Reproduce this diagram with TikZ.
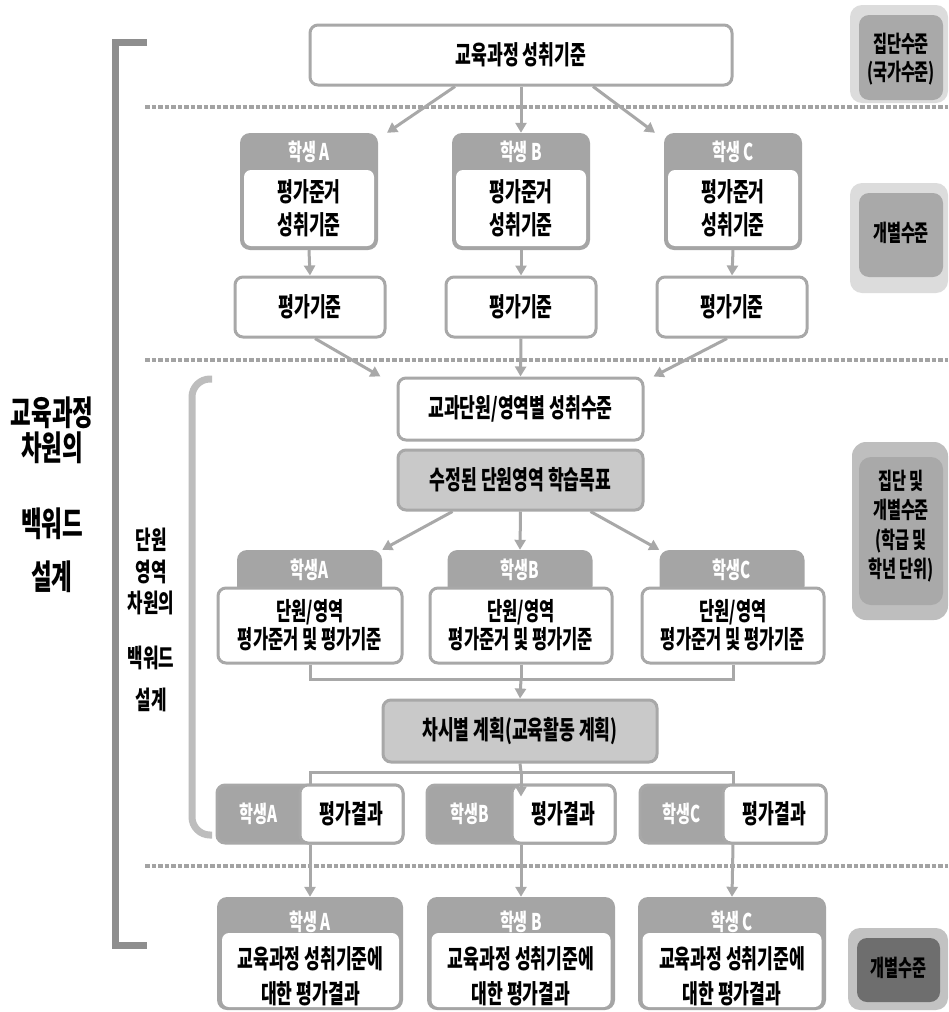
\documentclass[tikz,border=0pt]{standalone}
\usepackage{fontspec}
\newfontfamily\kr[FakeStretch=0.66]{Noto Sans CJK KR}
\usetikzlibrary{arrows.meta,calc}
\definecolor{lg}{HTML}{A8A8A8}
\definecolor{gfill}{HTML}{C9C9C9}
\definecolor{hdr}{HTML}{A5A5A5}
\definecolor{dotc}{HTML}{A3A3A3}
\definecolor{brk}{HTML}{8E8E8E}
\definecolor{brktwo}{HTML}{BDBDBD}
\definecolor{louter}{HTML}{DCDCDC}
\definecolor{linner}{HTML}{A9A9A9}
\definecolor{mouter}{HTML}{BEBEBE}
\definecolor{binner}{HTML}{6E6E6E}
\definecolor{bouter}{HTML}{C2C2C2}
\tikzset{
  txt/.style={inner sep=0pt, align=center, text=black, font=\kr\bfseries\fontsize{26}{33}\selectfont},
  box/.style={txt, draw=lg, line width=3pt, rounded corners=8pt},
  wbox/.style={box, fill=white},
  gbox/.style={box, fill=gfill},
  hdrbox/.style={fill=hdr, draw=none, rounded corners=10pt, inner sep=0pt},
  inwhite/.style={txt, fill=white, draw=none, rounded corners=7pt},
  hdrtxt/.style={inner sep=0pt, text=white, font=\kr\bfseries\fontsize{23}{25}\selectfont},
  arr/.style={draw=lg, line width=3pt, -{Triangle[length=10pt,width=11pt]}},
  conn/.style={draw=lg, line width=3pt},
  dotline/.style={draw=dotc, line width=4.5pt, dash pattern=on 4.5pt off 2pt},
  lbltxt/.style={inner sep=0pt, align=center, text=black, font=\kr\bfseries\fontsize{23}{28}\selectfont},
  bigtxt/.style={inner sep=0pt, text=black, font=\kr\bfseries\fontsize{34}{36}\selectfont},
  midtxt/.style={inner sep=0pt, text=black, font=\kr\bfseries\fontsize{25.5}{27}\selectfont},
}
\begin{document}
\begin{tikzpicture}[x=1pt,y=-1pt]
\useasboundingbox (0,0) rectangle (948,1012);
\fill[white] (0,0) rectangle (948,1012);

% dotted separators
\draw[dotline] (145,107) -- (948,107);
\draw[dotline] (145,360) -- (948,360);
\draw[dotline] (145,866) -- (948,866);

% brackets
\draw[brk, line width=7pt, line join=miter] (147,42) -- (115,42) -- (115,945) -- (147,945);
\draw[brktwo, line width=7pt, rounded corners=18pt] (212,379) -- (192,379) -- (192,835) -- (212,835);

% left texts
\node[bigtxt] (L1) at (52,413) {교육과정};
\node[bigtxt] (L2) at (52,448) {차원의};
\node[bigtxt] (L3) at (52,524) {백워드};
\node[bigtxt] (L4) at (52,577) {설계};
\node[midtxt] (M1) at (151,540) {단원};
\node[midtxt] (M2) at (151,572) {영역};
\node[midtxt] (M3) at (151,603) {차원의};
\node[midtxt] (M4) at (151,658) {백워드};
\node[midtxt] (M5) at (151,700) {설계};

% right labels
\node[fill=louter, rounded corners=12pt, minimum width=98pt, minimum height=98pt] (R1o) at (899,54) {};
\node[fill=linner, rounded corners=10pt, minimum width=84pt, minimum height=85pt] (R1i) at (901,57.5) {};
\node[lbltxt] (R1t) at (901,59) {집단수준\\(국가수준)};
\node[fill=louter, rounded corners=12pt, minimum width=98pt, minimum height=110pt] (R2o) at (899,238) {};
\node[fill=linner, rounded corners=10pt, minimum width=84pt, minimum height=84pt] (R2i) at (901,235) {};
\node[lbltxt] (R2t) at (901,233) {개별수준};
\node[fill=mouter, rounded corners=14pt, minimum width=96pt, minimum height=178pt] (R3o) at (900,531) {};
\node[fill=linner, rounded corners=12pt, minimum width=84pt, minimum height=148pt] (R3i) at (901,531) {};
\node[lbltxt, font=\kr\bfseries\fontsize{23}{29.5}\selectfont] (R3t) at (901,526) {집단 및\\개별수준\\(학급 및\\학년 단위)};
\node[fill=bouter, rounded corners=12pt, minimum width=100pt, minimum height=82pt] (R4o) at (898,969) {};
\node[fill=binner, rounded corners=10pt, minimum width=83pt, minimum height=64pt] (R4i) at (898.5,970) {};
\node[lbltxt] (R4t) at (898.5,968) {개별수준};

% top box
\node[wbox, minimum width=422pt, minimum height=60pt] (top) at (521,55) {교육과정 성취기준};

% row 1 students
\node[hdrbox, minimum width=138pt, minimum height=117pt] (sA) at (309,191.5) {};
\node[inwhite, minimum width=130pt, minimum height=76pt] (sAi) at (309,208) {평가준거\\성취기준};
\node[hdrtxt] (sAh) at (309,152) {학생 A};
\node[hdrbox, minimum width=138pt, minimum height=117pt] (sB) at (521,191.5) {};
\node[inwhite, minimum width=130pt, minimum height=76pt] (sBi) at (521,208) {평가준거\\성취기준};
\node[hdrtxt] (sBh) at (521,152) {학생 B};
\node[hdrbox, minimum width=138pt, minimum height=117pt] (sC) at (733,191.5) {};
\node[inwhite, minimum width=130pt, minimum height=76pt] (sCi) at (733,208) {평가준거\\성취기준};
\node[hdrtxt] (sCh) at (733,152) {학생 C};

% row 2
\node[wbox, minimum width=150pt, minimum height=60pt] (pA) at (310,307) {평가기준};
\node[wbox, minimum width=150pt, minimum height=60pt] (pB) at (521,307) {평가기준};
\node[wbox, minimum width=150pt, minimum height=60pt] (pC) at (732,307) {평가기준};

\draw[arr] ([xshift=-66pt]top.south) -- ([xshift=78pt]sA.north);
\draw[arr] (top.south) -- (sB.north);
\draw[arr] ([xshift=72pt]top.south) -- ([xshift=-78pt]sC.north);
\draw[arr] (sA.south) -- (pA.north);
\draw[arr] (sB.south) -- (pB.north);
\draw[arr] (sC.south) -- (pC.north);

% unit level
\node[wbox, minimum width=245pt, minimum height=62pt] (k) at (520.5,409) {교과단원/영역별 성취수준};
\node[gbox, minimum width=245pt, minimum height=60pt] (m) at (520.5,480) {수정된 단원영역 학습목표};
\draw[arr] ([xshift=5pt]pA.south) -- ([xshift=-16pt]k.north west);
\draw[arr] (pB.south) -- (k.north);
\draw[arr] ([xshift=-5pt]pC.south) -- ([xshift=9pt]k.north east);

% row 3
\node[hdrbox, minimum width=145pt, minimum height=46pt] (tA) at (309.5,573) {};
\node[hdrbox, minimum width=145pt, minimum height=46pt] (tB) at (520,573) {};
\node[hdrbox, minimum width=145pt, minimum height=46pt] (tC) at (732,573) {};
\node[hdrtxt] (tAh) at (309.5,570) {학생A};
\node[hdrtxt] (tBh) at (520,570) {학생B};
\node[hdrtxt] (tCh) at (732,570) {학생C};
\node[wbox, minimum width=184pt, minimum height=75pt, font=\kr\bfseries\fontsize{25}{28}\selectfont] (uA) at (310,625.5) {단원/영역\\평가준거 및 평가기준};
\node[wbox, minimum width=182pt, minimum height=75pt, font=\kr\bfseries\fontsize{25}{28}\selectfont] (uB) at (521,625.5) {단원/영역\\평가준거 및 평가기준};
\node[wbox, minimum width=182pt, minimum height=75pt, font=\kr\bfseries\fontsize{25}{28}\selectfont] (uC) at (733,625.5) {단원/영역\\평가준거 및 평가기준};
\draw[arr] ([xshift=-68pt]m.south) -- (tA.north east);
\draw[arr] (m.south) -- (tB.north);
\draw[arr] ([xshift=70pt]m.south) -- (tC.north west);

% plan
\node[gbox, minimum width=274pt, minimum height=62pt] (plan) at (520,731) {차시별 계획(교육활동 계획)};
\coordinate (j1) at (521,679);
\draw[conn] (uA.south) |- (j1) -| (uC.south);
\draw[conn] (uB.south) -- (j1);
\draw[arr] (j1) -- (plan.north);

% row 4
\node[hdrbox, draw=lg, line width=3pt, rounded corners=8pt, minimum width=186pt, minimum height=58pt] (rA) at (310,814) {};
\node[wbox, minimum width=103pt, minimum height=58pt] (rAw) at (351.5,814) {평가결과};
\node[hdrtxt] (rAh) at (258.5,814) {학생A};
\node[hdrbox, draw=lg, line width=3pt, rounded corners=8pt, minimum width=188pt, minimum height=58pt] (rB) at (521,814) {};
\node[wbox, minimum width=103pt, minimum height=58pt] (rBw) at (563.5,814) {평가결과};
\node[hdrtxt] (rBh) at (469.5,814) {학생B};
\node[hdrbox, draw=lg, line width=3pt, rounded corners=8pt, minimum width=186pt, minimum height=58pt] (rC) at (733,814) {};
\node[wbox, minimum width=103pt, minimum height=58pt] (rCw) at (774.5,814) {평가결과};
\node[hdrtxt] (rCh) at (681.5,814) {학생C};
\coordinate (j2) at (521,772);
\draw[conn] (plan.south) -- (j2);
\draw[conn] (rA.north) |- (j2) -| (rC.north);
\draw[arr] (j2) -- ([yshift=-13pt]rB.north);

% row 5
\node[hdrbox, minimum width=186pt, minimum height=113pt] (fA) at (310,953.5) {};
\node[inwhite, minimum width=177pt, minimum height=74pt] (fAi) at (310.5,970) {};
\node[hdrtxt] (fAh) at (310,922) {학생 A};
\node[txt, font=\kr\bfseries\fontsize{26}{35}\selectfont] (fAt) at (310.5,976.5) {교육과정 성취기준에\\대한 평가결과};
\node[hdrbox, minimum width=188pt, minimum height=113pt] (fB) at (521,953.5) {};
\node[inwhite, minimum width=179pt, minimum height=74pt] (fBi) at (521,970) {};
\node[hdrtxt] (fBh) at (521,922) {학생 B};
\node[txt, font=\kr\bfseries\fontsize{26}{35}\selectfont] (fBt) at (521,976.5) {교육과정 성취기준에\\대한 평가결과};
\node[hdrbox, minimum width=188pt, minimum height=113pt] (fC) at (732,953.5) {};
\node[inwhite, minimum width=179pt, minimum height=74pt] (fCi) at (732,970) {};
\node[hdrtxt] (fCh) at (732,922) {학생 C};
\node[txt, font=\kr\bfseries\fontsize{26}{35}\selectfont] (fCt) at (732,976.5) {교육과정 성취기준에\\대한 평가결과};
\draw[arr] (rA.south) -- (fA.north);
\draw[arr] (rB.south) -- (fB.north);
\draw[arr] (rC.south) -- (fC.north);
\end{tikzpicture}
\end{document}
